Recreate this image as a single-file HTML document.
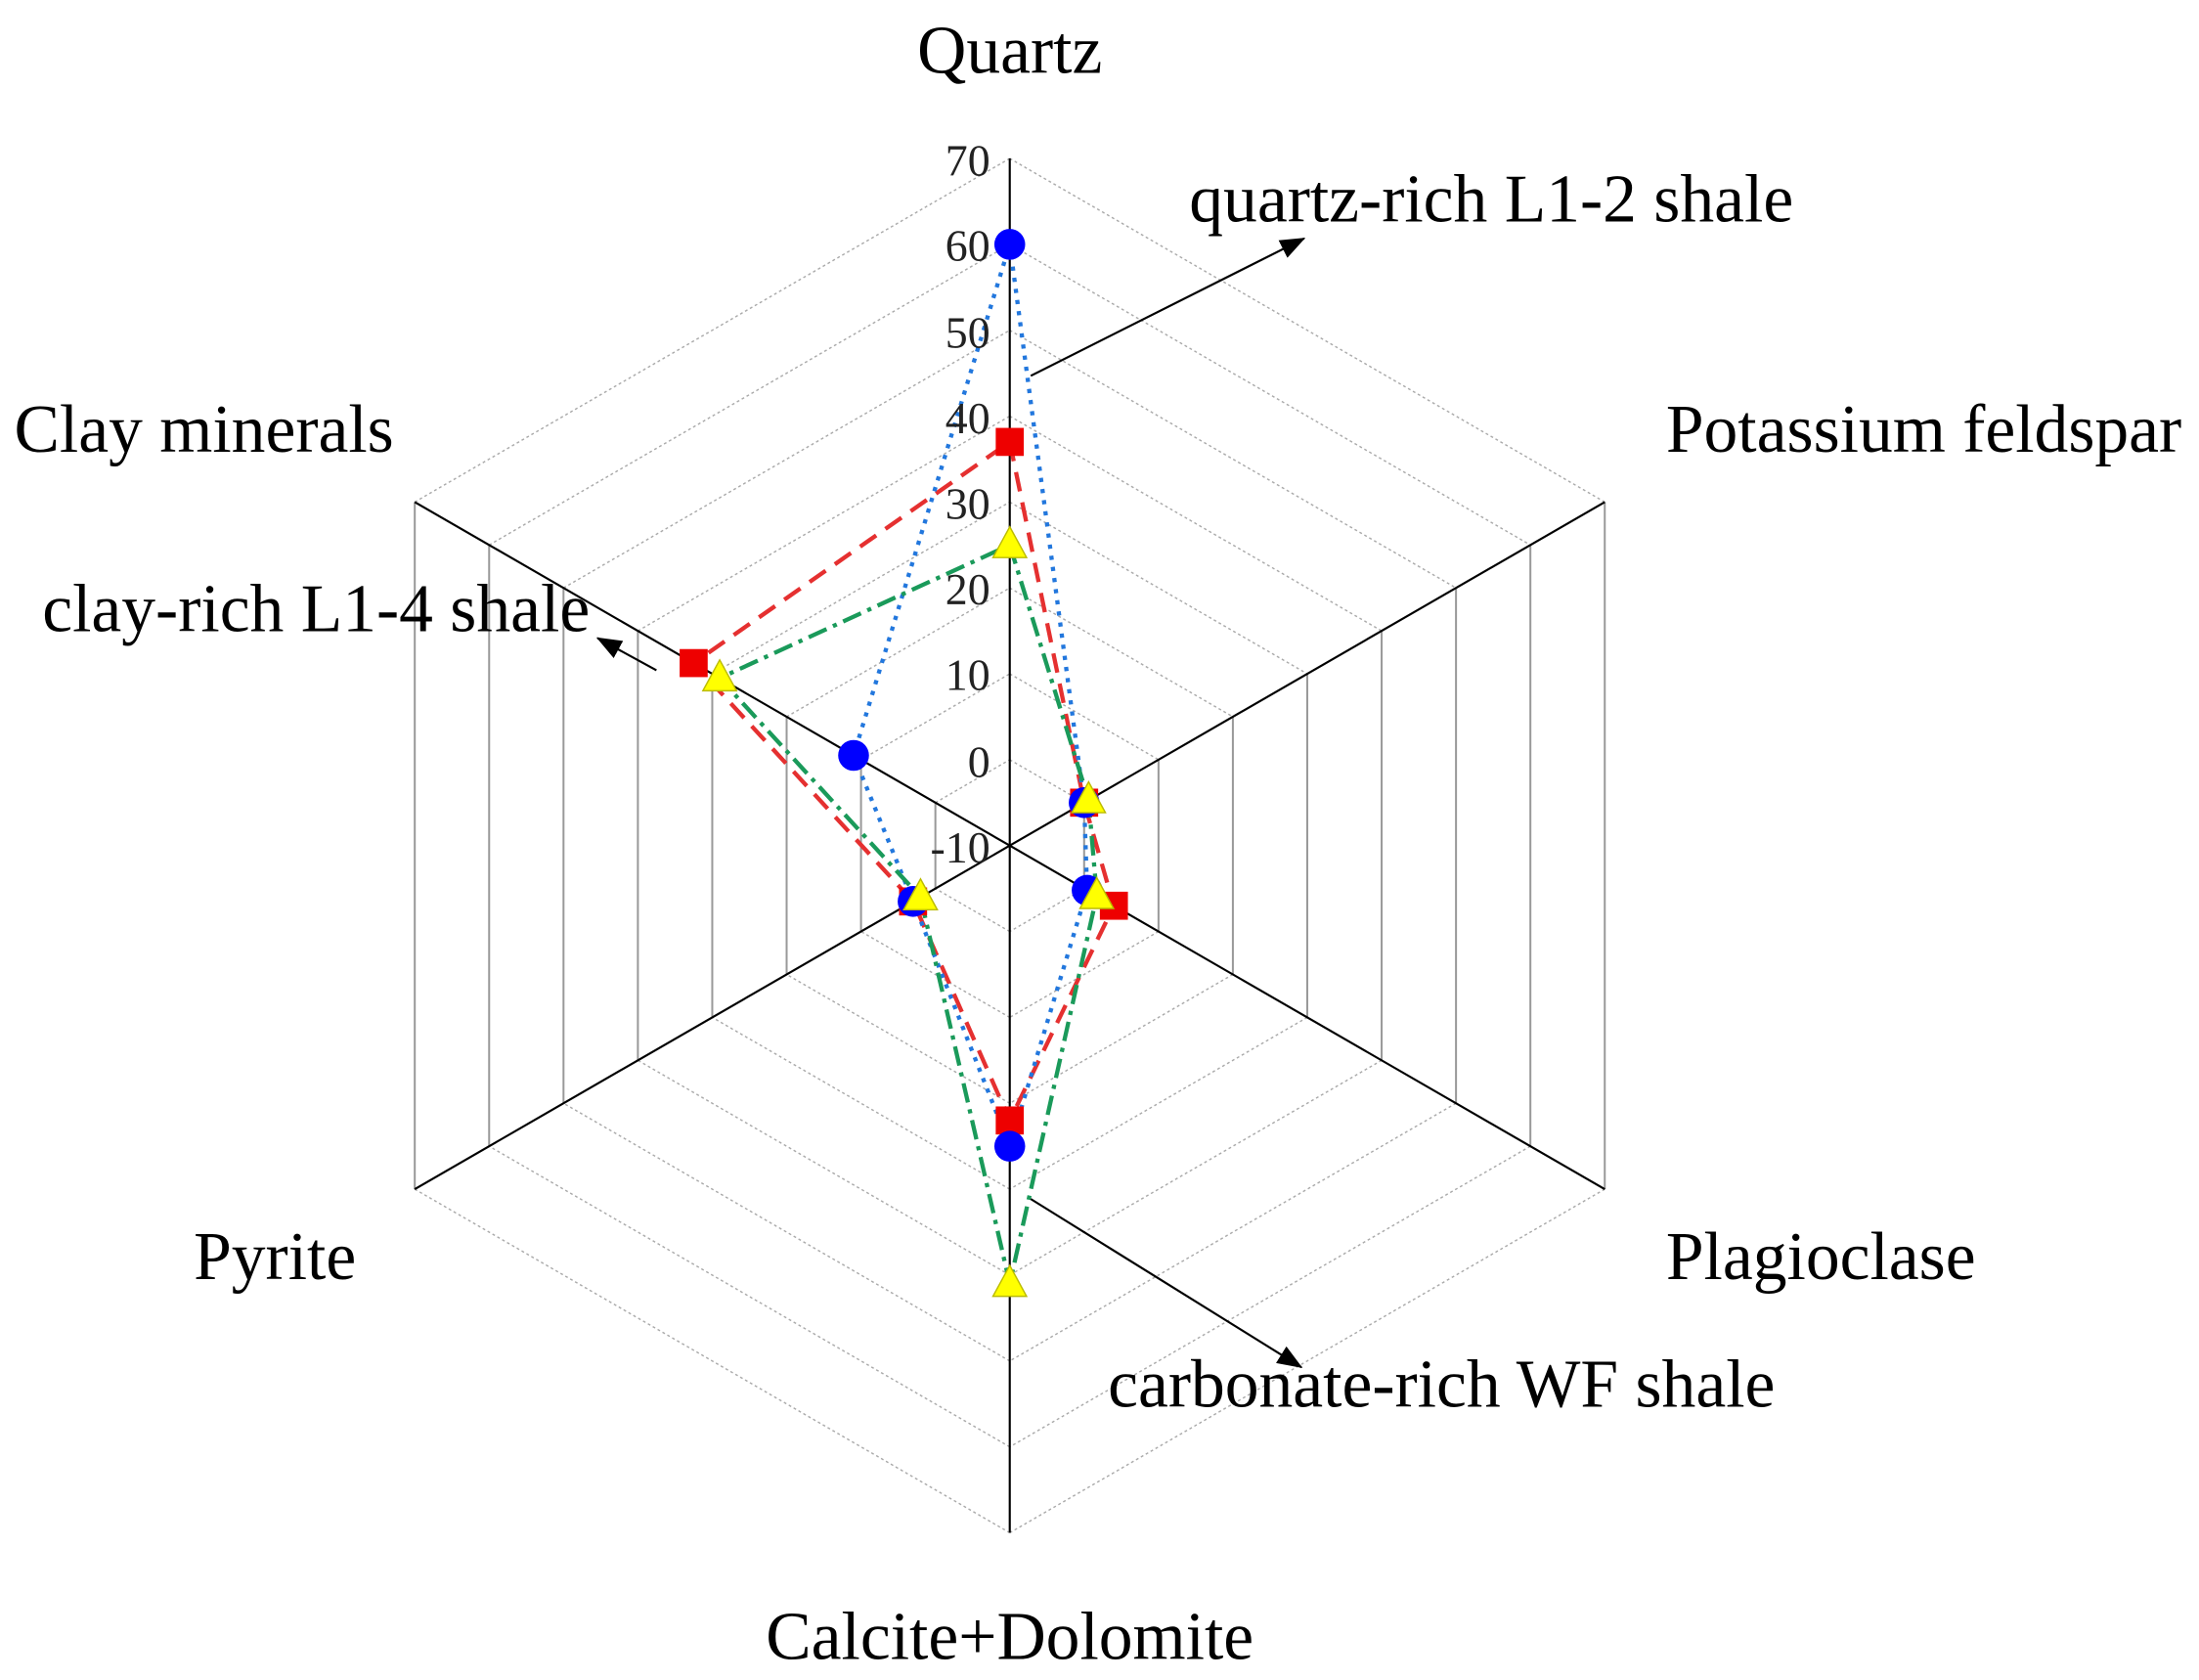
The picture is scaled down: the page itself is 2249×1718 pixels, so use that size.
<!DOCTYPE html>
<html><head><meta charset="utf-8"><style>html,body{margin:0;padding:0;background:#fff}svg{display:block}</style></head>
<body>
<svg id="s" xmlns="http://www.w3.org/2000/svg" width="2249" height="1718" viewBox="0 0 1568 1198" font-family="Liberation Serif, serif">
<defs>
<marker id="ar2" markerWidth="18" markerHeight="14" refX="17" refY="7" orient="auto" markerUnits="userSpaceOnUse" viewBox="0 0 18 14"><path d="M0,0 L18,7 L0,14z" fill="#000"/></marker></defs>
<g id="grid"></g>
<g id="data"></g>
<g font-size="32" text-anchor="end" fill="#222">
<text x="706" y="125">70</text><text x="706" y="186">60</text><text x="706" y="248">50</text><text x="706" y="309">40</text><text x="706" y="370">30</text><text x="706" y="431">20</text><text x="706" y="492">10</text><text x="706" y="554">0</text><text x="706" y="615">-10</text>
</g>
<g font-size="48.5" fill="#000">
<text x="720" y="52" text-anchor="middle">Quartz</text>
<text x="1188" y="322">Potassium feldspar</text>
<text x="10" y="322">Clay minerals</text>
<text x="30" y="450">clay-rich L1-4 shale</text>
<text x="1188" y="912">Plagioclase</text>
<text x="138" y="912">Pyrite</text>
<text x="720" y="1183" text-anchor="middle">Calcite+Dolomite</text>
<text x="848" y="158">quartz-rich L1-2 shale</text>
<text x="790" y="1003">carbonate-rich WF shale</text>
</g>
<g stroke="#000" stroke-width="1.5" fill="none">
<line x1="735" y1="268" x2="930" y2="170" marker-end="url(#ar2)"/>
<line x1="468" y1="478" x2="426" y2="455" marker-end="url(#ar2)"/>
<line x1="735" y1="855" x2="928" y2="975" marker-end="url(#ar2)"/>
</g>
</svg>
<script>
var C=[720,603],u=6.125,D=[[0,-1],[0.866,-0.5],[0.866,0.5],[0,1],[-0.866,0.5],[-0.866,-0.5]];
function P(i,v){var r=(v+10)*u;return [C[0]+D[i][0]*r,C[1]+D[i][1]*r];}
var g='';
for(var k=1;k<=8;k++){var v=-10+k*10,pts=[];for(var i=0;i<6;i++)pts.push(P(i,v));
for(var i=0;i<6;i++){var a=pts[i],b=pts[(i+1)%6];var vert=Math.abs(a[0]-b[0])<1;
g+='<line x1="'+a[0]+'" y1="'+a[1]+'" x2="'+b[0]+'" y2="'+b[1]+'" stroke="'+(vert?'#999':'#aaa')+'" stroke-width="'+(vert?1.4:1)+'" '+(vert?'':'stroke-dasharray="2,2"')+'/>';}}
for(var i=0;i<6;i++){var p=P(i,70);g+='<line x1="720" y1="603" x2="'+p[0]+'" y2="'+p[1]+'" stroke="#000" stroke-width="1.5"/>';}
document.getElementById('grid').innerHTML=g;
var S=[
{v:[37,0,4,22,3,32.5],c:'#e53030',d:'14,8',m:'sq',mc:'#e00'},
{v:[60,0,0.4,25,3,11],c:'#2277dd',d:'3,5',m:'ci',mc:'#00f'},
{v:[25,0.6,1.7,41,2,29],c:'#1a9a5a',d:'14,5,3,5',m:'tri',mc:'#ff0'}];
var h='';
S.forEach(function(s){var pts=s.v.map(function(v,i){return P(i,v);});
h+='<polygon points="'+pts.map(function(p){return p.join(',')}).join(' ')+'" fill="none" stroke="'+s.c+'" stroke-width="3" stroke-dasharray="'+s.d+'"/>';});
S.forEach(function(s){s.v.forEach(function(v,i){var p=P(i,v);
if(s.m=='sq')h+='<rect x="'+(p[0]-10)+'" y="'+(p[1]-10)+'" width="20" height="20" fill="'+s.mc+'"/>';
else if(s.m=='ci')h+='<circle cx="'+p[0]+'" cy="'+p[1]+'" r="11" fill="'+s.mc+'"/>';
else h+='<polygon points="'+p[0]+','+(p[1]-13)+' '+(p[0]-12)+','+(p[1]+9)+' '+(p[0]+12)+','+(p[1]+9)+'" fill="'+s.mc+'" stroke="#bb0" stroke-width="1"/>';});});
document.getElementById('data').innerHTML=h;
</script>
</body></html>
